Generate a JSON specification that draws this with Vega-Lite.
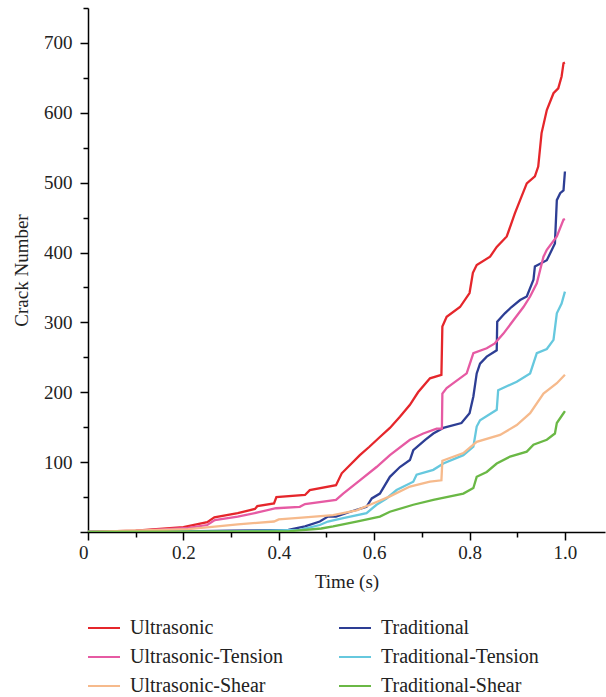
{
  "$schema": "https://vega.github.io/schema/vega-lite/v6.json",
  "width": 517,
  "height": 524,
  "autosize": {"type": "none"},
  "padding": {"left": 88, "top": 8, "right": 1, "bottom": 165},
  "background": "white",
  "config": {"view": {"stroke": null}, "font": "Liberation Serif"},
  "datasets": {
    "curves": [
      {"s":"Ultrasonic","t":0,"v":0},{"s":"Ultrasonic","t":0.1,"v":2},{"s":"Ultrasonic","t":0.2,"v":7},{"s":"Ultrasonic","t":0.25,"v":14},{"s":"Ultrasonic","t":0.265,"v":21},{"s":"Ultrasonic","t":0.314,"v":27},{"s":"Ultrasonic","t":0.35,"v":33},{"s":"Ultrasonic","t":0.355,"v":37},{"s":"Ultrasonic","t":0.39,"v":41},{"s":"Ultrasonic","t":0.395,"v":50},{"s":"Ultrasonic","t":0.455,"v":53},{"s":"Ultrasonic","t":0.465,"v":60},{"s":"Ultrasonic","t":0.52,"v":67},{"s":"Ultrasonic","t":0.532,"v":84},{"s":"Ultrasonic","t":0.57,"v":110},{"s":"Ultrasonic","t":0.59,"v":122},{"s":"Ultrasonic","t":0.612,"v":136},{"s":"Ultrasonic","t":0.633,"v":149},{"s":"Ultrasonic","t":0.654,"v":165},{"s":"Ultrasonic","t":0.675,"v":182},{"s":"Ultrasonic","t":0.692,"v":200},{"s":"Ultrasonic","t":0.717,"v":220},{"s":"Ultrasonic","t":0.741,"v":225},{"s":"Ultrasonic","t":0.743,"v":294},{"s":"Ultrasonic","t":0.752,"v":308},{"s":"Ultrasonic","t":0.78,"v":322},{"s":"Ultrasonic","t":0.8,"v":342},{"s":"Ultrasonic","t":0.807,"v":371},{"s":"Ultrasonic","t":0.815,"v":382},{"s":"Ultrasonic","t":0.843,"v":394},{"s":"Ultrasonic","t":0.857,"v":408},{"s":"Ultrasonic","t":0.878,"v":423},{"s":"Ultrasonic","t":0.895,"v":456},{"s":"Ultrasonic","t":0.906,"v":475},{"s":"Ultrasonic","t":0.92,"v":499},{"s":"Ultrasonic","t":0.937,"v":509},{"s":"Ultrasonic","t":0.944,"v":523},{"s":"Ultrasonic","t":0.951,"v":571},{"s":"Ultrasonic","t":0.962,"v":604},{"s":"Ultrasonic","t":0.976,"v":628},{"s":"Ultrasonic","t":0.986,"v":635},{"s":"Ultrasonic","t":0.993,"v":652},{"s":"Ultrasonic","t":0.997,"v":671},{"s":"Ultrasonic","t":1.0,"v":672},

      {"s":"Traditional","t":0,"v":0},{"s":"Traditional","t":0.2,"v":1},{"s":"Traditional","t":0.3,"v":2},{"s":"Traditional","t":0.42,"v":3},{"s":"Traditional","t":0.455,"v":8},{"s":"Traditional","t":0.486,"v":15},{"s":"Traditional","t":0.503,"v":22},{"s":"Traditional","t":0.52,"v":22},{"s":"Traditional","t":0.55,"v":29},{"s":"Traditional","t":0.584,"v":36},{"s":"Traditional","t":0.595,"v":48},{"s":"Traditional","t":0.612,"v":55},{"s":"Traditional","t":0.633,"v":79},{"s":"Traditional","t":0.654,"v":93},{"s":"Traditional","t":0.675,"v":103},{"s":"Traditional","t":0.682,"v":117},{"s":"Traditional","t":0.707,"v":132},{"s":"Traditional","t":0.724,"v":141},{"s":"Traditional","t":0.745,"v":149},{"s":"Traditional","t":0.783,"v":156},{"s":"Traditional","t":0.8,"v":170},{"s":"Traditional","t":0.808,"v":194},{"s":"Traditional","t":0.815,"v":227},{"s":"Traditional","t":0.822,"v":241},{"s":"Traditional","t":0.836,"v":251},{"s":"Traditional","t":0.857,"v":260},{"s":"Traditional","t":0.858,"v":301},{"s":"Traditional","t":0.874,"v":313},{"s":"Traditional","t":0.888,"v":322},{"s":"Traditional","t":0.906,"v":332},{"s":"Traditional","t":0.92,"v":337},{"s":"Traditional","t":0.934,"v":361},{"s":"Traditional","t":0.937,"v":380},{"s":"Traditional","t":0.962,"v":389},{"s":"Traditional","t":0.979,"v":413},{"s":"Traditional","t":0.983,"v":475},{"s":"Traditional","t":0.99,"v":485},{"s":"Traditional","t":0.997,"v":489},{"s":"Traditional","t":1.0,"v":516},

      {"s":"Ultrasonic-Tension","t":0,"v":0},{"s":"Ultrasonic-Tension","t":0.1,"v":1.5},{"s":"Ultrasonic-Tension","t":0.21,"v":6},{"s":"Ultrasonic-Tension","t":0.25,"v":10},{"s":"Ultrasonic-Tension","t":0.266,"v":17},{"s":"Ultrasonic-Tension","t":0.314,"v":22},{"s":"Ultrasonic-Tension","t":0.356,"v":28},{"s":"Ultrasonic-Tension","t":0.394,"v":34},{"s":"Ultrasonic-Tension","t":0.444,"v":36},{"s":"Ultrasonic-Tension","t":0.455,"v":40},{"s":"Ultrasonic-Tension","t":0.52,"v":46},{"s":"Ultrasonic-Tension","t":0.535,"v":55},{"s":"Ultrasonic-Tension","t":0.57,"v":74},{"s":"Ultrasonic-Tension","t":0.605,"v":93},{"s":"Ultrasonic-Tension","t":0.633,"v":110},{"s":"Ultrasonic-Tension","t":0.675,"v":132},{"s":"Ultrasonic-Tension","t":0.703,"v":141},{"s":"Ultrasonic-Tension","t":0.731,"v":148},{"s":"Ultrasonic-Tension","t":0.742,"v":148},{"s":"Ultrasonic-Tension","t":0.743,"v":198},{"s":"Ultrasonic-Tension","t":0.752,"v":206},{"s":"Ultrasonic-Tension","t":0.766,"v":213},{"s":"Ultrasonic-Tension","t":0.794,"v":227},{"s":"Ultrasonic-Tension","t":0.808,"v":256},{"s":"Ultrasonic-Tension","t":0.836,"v":263},{"s":"Ultrasonic-Tension","t":0.853,"v":270},{"s":"Ultrasonic-Tension","t":0.871,"v":284},{"s":"Ultrasonic-Tension","t":0.892,"v":303},{"s":"Ultrasonic-Tension","t":0.913,"v":322},{"s":"Ultrasonic-Tension","t":0.927,"v":337},{"s":"Ultrasonic-Tension","t":0.941,"v":356},{"s":"Ultrasonic-Tension","t":0.948,"v":375},{"s":"Ultrasonic-Tension","t":0.955,"v":394},{"s":"Ultrasonic-Tension","t":0.962,"v":404},{"s":"Ultrasonic-Tension","t":0.983,"v":423},{"s":"Ultrasonic-Tension","t":0.997,"v":447},{"s":"Ultrasonic-Tension","t":1.0,"v":448},

      {"s":"Traditional-Tension","t":0,"v":0},{"s":"Traditional-Tension","t":0.3,"v":1},{"s":"Traditional-Tension","t":0.444,"v":3},{"s":"Traditional-Tension","t":0.486,"v":10},{"s":"Traditional-Tension","t":0.503,"v":15},{"s":"Traditional-Tension","t":0.535,"v":20},{"s":"Traditional-Tension","t":0.584,"v":27},{"s":"Traditional-Tension","t":0.605,"v":39},{"s":"Traditional-Tension","t":0.626,"v":48},{"s":"Traditional-Tension","t":0.647,"v":60},{"s":"Traditional-Tension","t":0.682,"v":72},{"s":"Traditional-Tension","t":0.689,"v":82},{"s":"Traditional-Tension","t":0.724,"v":89},{"s":"Traditional-Tension","t":0.745,"v":98},{"s":"Traditional-Tension","t":0.787,"v":110},{"s":"Traditional-Tension","t":0.808,"v":122},{"s":"Traditional-Tension","t":0.815,"v":151},{"s":"Traditional-Tension","t":0.822,"v":160},{"s":"Traditional-Tension","t":0.857,"v":175},{"s":"Traditional-Tension","t":0.86,"v":203},{"s":"Traditional-Tension","t":0.899,"v":215},{"s":"Traditional-Tension","t":0.927,"v":227},{"s":"Traditional-Tension","t":0.941,"v":256},{"s":"Traditional-Tension","t":0.962,"v":262},{"s":"Traditional-Tension","t":0.976,"v":275},{"s":"Traditional-Tension","t":0.983,"v":313},{"s":"Traditional-Tension","t":0.993,"v":327},{"s":"Traditional-Tension","t":1.0,"v":344},

      {"s":"Ultrasonic-Shear","t":0,"v":0},{"s":"Ultrasonic-Shear","t":0.21,"v":4},{"s":"Ultrasonic-Shear","t":0.266,"v":7.6},{"s":"Ultrasonic-Shear","t":0.314,"v":11},{"s":"Ultrasonic-Shear","t":0.39,"v":15},{"s":"Ultrasonic-Shear","t":0.4,"v":18},{"s":"Ultrasonic-Shear","t":0.455,"v":21},{"s":"Ultrasonic-Shear","t":0.514,"v":24},{"s":"Ultrasonic-Shear","t":0.563,"v":31},{"s":"Ultrasonic-Shear","t":0.605,"v":43},{"s":"Ultrasonic-Shear","t":0.633,"v":51},{"s":"Ultrasonic-Shear","t":0.675,"v":65},{"s":"Ultrasonic-Shear","t":0.717,"v":72},{"s":"Ultrasonic-Shear","t":0.741,"v":74},{"s":"Ultrasonic-Shear","t":0.743,"v":102},{"s":"Ultrasonic-Shear","t":0.787,"v":113},{"s":"Ultrasonic-Shear","t":0.815,"v":129},{"s":"Ultrasonic-Shear","t":0.864,"v":139},{"s":"Ultrasonic-Shear","t":0.899,"v":153},{"s":"Ultrasonic-Shear","t":0.927,"v":170},{"s":"Ultrasonic-Shear","t":0.955,"v":198},{"s":"Ultrasonic-Shear","t":0.983,"v":213},{"s":"Ultrasonic-Shear","t":1.0,"v":225},

      {"s":"Traditional-Shear","t":0,"v":0},{"s":"Traditional-Shear","t":0.42,"v":1},{"s":"Traditional-Shear","t":0.489,"v":5},{"s":"Traditional-Shear","t":0.514,"v":8},{"s":"Traditional-Shear","t":0.563,"v":15},{"s":"Traditional-Shear","t":0.612,"v":22},{"s":"Traditional-Shear","t":0.633,"v":29},{"s":"Traditional-Shear","t":0.682,"v":39},{"s":"Traditional-Shear","t":0.724,"v":46},{"s":"Traditional-Shear","t":0.787,"v":55},{"s":"Traditional-Shear","t":0.808,"v":63},{"s":"Traditional-Shear","t":0.815,"v":79},{"s":"Traditional-Shear","t":0.836,"v":86},{"s":"Traditional-Shear","t":0.857,"v":98},{"s":"Traditional-Shear","t":0.885,"v":108},{"s":"Traditional-Shear","t":0.92,"v":115},{"s":"Traditional-Shear","t":0.934,"v":125},{"s":"Traditional-Shear","t":0.962,"v":132},{"s":"Traditional-Shear","t":0.979,"v":141},{"s":"Traditional-Shear","t":0.983,"v":156},{"s":"Traditional-Shear","t":0.997,"v":170},{"s":"Traditional-Shear","t":1.0,"v":173}
    ]
  },
  "data": {"name": "curves"},
  "mark": {"type": "line", "strokeWidth": 2.3, "clip": true},
  "encoding": {
    "x": {
      "field": "t", "type": "quantitative",
      "scale": {"domain": [0, 1.084], "nice": false, "zero": true},
      "axis": {
        "title": "Time (s)",
        "values": [0, 0.1, 0.2, 0.3, 0.4, 0.5, 0.6, 0.7, 0.8, 0.9, 1.0],
        "labelExpr": "round(datum.value*10) % 2 == 1 ? '' : (datum.value == 0 ? '0' : format(datum.value, '.1f'))",
        "labelAlign": {"condition": {"test": "datum.value == 0", "value": "right"}, "value": "center"},
        "tickSize": {"condition": {"test": "round(datum.value*10) % 2 == 1", "value": 5}, "value": 8},
        "grid": false,
        "domainColor": "#000", "domainWidth": 1.5,
        "tickColor": "#000", "tickWidth": 1.5,
        "labelFont": "Liberation Serif", "labelFontSize": 19, "labelColor": "#222",
        "labelPadding": 3, "labelFlush": false, "labelOverlap": false,
        "titleFont": "Liberation Serif", "titleFontSize": 19, "titleFontWeight": "normal", "titleColor": "#222",
        "titlePadding": 10
      }
    },
    "y": {
      "field": "v", "type": "quantitative",
      "scale": {"domain": [0, 750], "nice": false},
      "axis": {
        "title": "Crack Number",
        "values": [0, 50, 100, 150, 200, 250, 300, 350, 400, 450, 500, 550, 600, 650, 700, 750],
        "labelExpr": "(datum.value % 100 != 0 || datum.value == 0) ? '' : datum.label",
        "tickSize": {"condition": {"test": "datum.value % 100 != 0", "value": 5}, "value": 8},
        "grid": false,
        "domainColor": "#000", "domainWidth": 1.5,
        "tickColor": "#000", "tickWidth": 1.5,
        "labelFont": "Liberation Serif", "labelFontSize": 19, "labelColor": "#222",
        "labelPadding": 8, "labelOverlap": false, "labelFlush": false,
        "titleFont": "Liberation Serif", "titleFontSize": 19, "titleFontWeight": "normal", "titleColor": "#222",
        "titlePadding": 12
      }
    },
    "color": {
      "field": "s", "type": "nominal",
      "scale": {
        "domain": ["Ultrasonic", "Traditional", "Ultrasonic-Tension", "Traditional-Tension", "Ultrasonic-Shear", "Traditional-Shear"],
        "range": ["#e5262b", "#2d3e94", "#e65aa3", "#66c8de", "#f6ba8c", "#6ab845"]
      },
      "legend": {
        "title": null,
        "orient": "none",
        "legendX": 6,
        "legendY": 610,
        "direction": "horizontal",
        "columns": 2,
        "symbolType": "M-2,0H2",
        "symbolSize": 256,
        "symbolStrokeWidth": 2,
        "labelFont": "Liberation Serif",
        "labelFontSize": 20,
        "labelColor": "#222",
        "labelOffset": 16,
        "columnPadding": 51,
        "rowPadding": 9,
        "labelLimit": 400
      }
    }
  }
}
